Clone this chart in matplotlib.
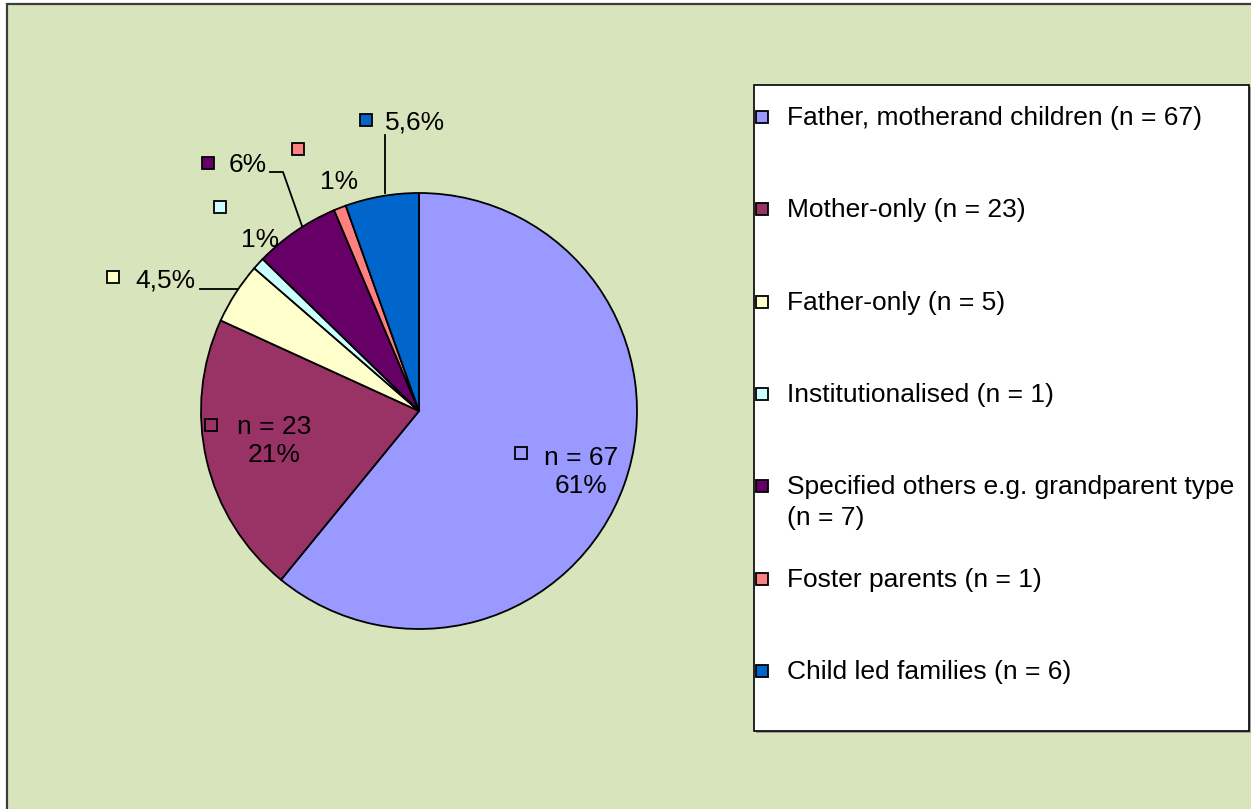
import matplotlib.pyplot as plt
from matplotlib.patches import Rectangle

plt.rcParams['font.family'] = ['Liberation Sans', 'DejaVu Sans']

# chart data
categories = [
    "Father, motherand children (n = 67)",
    "Mother-only (n = 23)",
    "Father-only (n = 5)",
    "Institutionalised (n = 1)",
    "Specified others e.g. grandparent type\n(n = 7)",
    "Foster parents (n = 1)",
    "Child led families (n = 6)",
]
counts = [67, 23, 5, 1, 7, 1, 6]
n_labels = ["n = 67", "n = 23", "", "", "", "", ""]
pct_labels = ["61%", "21%", "4,5%", "1%", "6%", "1%", "5,6%"]
colors = ["#9999FF", "#993366", "#FFFFCC", "#CCFFFF", "#660066", "#FF8080", "#0066CC"]

W, H = 1251, 809
fig = plt.figure(figsize=(W / 100, H / 100), dpi=100, facecolor="white")
ax = fig.add_axes([0, 0, 1, 1])


def fy(y):
    # pixel row (from top) -> axis y
    return H - y


# chart area background
ax.add_patch(Rectangle((7, fy(H + 20)), W + 20, H + 16, facecolor="#D8E4BC",
                       edgecolor="#3c3c3c", lw=1.6, zorder=0))

# pie
cx, cy, r = 419, fy(411), 218
ax.pie(counts, colors=colors, startangle=90, counterclock=False,
       center=(cx, cy), radius=r, frame=True,
       wedgeprops=dict(edgecolor="black", linewidth=1.3))
ax.set_xlim(0, W)
ax.set_ylim(0, H)
ax.axis("off")

fs = 19

# data label layout (marker pos, text pos, leader line) in pixels
label_layout = [
    dict(marker=(521, 453), text=(581, 472), leader=None),
    dict(marker=(211, 425), text=(274, 441), leader=None),
    dict(marker=(113, 277), text=(165, 280), leader=[(200, 289), (237, 289)]),
    dict(marker=(220, 207), text=(260, 240), leader=None),
    dict(marker=(208, 163), text=(248, 165), leader=[(270, 172), (283, 172), (302, 226)]),
    dict(marker=(298, 149), text=(339, 182), leader=None),
    dict(marker=(366, 120), text=(415, 122), leader=[(385, 135), (385, 193)]),
]

for i, lay in enumerate(label_layout):
    mx, my = lay["marker"]
    ax.plot(mx, fy(my), marker="s", ms=8.5, mfc=colors[i], mec="black", mew=1.3,
            zorder=5, clip_on=False)
    txt = pct_labels[i] if not n_labels[i] else n_labels[i] + "\n" + pct_labels[i]
    tx, ty = lay["text"]
    ax.text(tx, fy(ty), txt, ha="center", va="center", fontsize=fs,
            linespacing=1.2, zorder=5)
    if lay["leader"]:
        xs = [p[0] for p in lay["leader"]]
        ys = [fy(p[1]) for p in lay["leader"]]
        ax.plot(xs, ys, color="black", lw=1.3, zorder=4)

# legend box
ax.add_patch(Rectangle((756, fy(733)), 495, 646, facecolor="#a0a0a0",
                       edgecolor="none", zorder=2))
ax.add_patch(Rectangle((754, fy(731)), 495, 646, facecolor="white",
                       edgecolor="black", lw=1.2, zorder=3))

step = 92.3
for i, cat in enumerate(categories):
    y = 117 + i * step
    ax.plot(762, fy(y), marker="s", ms=8.5, mfc=colors[i], mec="black", mew=1.3,
            zorder=5)
    for k, line in enumerate(cat.split("\n")):
        ax.text(787, fy(y + 31 * k + 1), line, ha="left", va="center",
                fontsize=fs, zorder=5)

fig.savefig("out.png", dpi=100)
